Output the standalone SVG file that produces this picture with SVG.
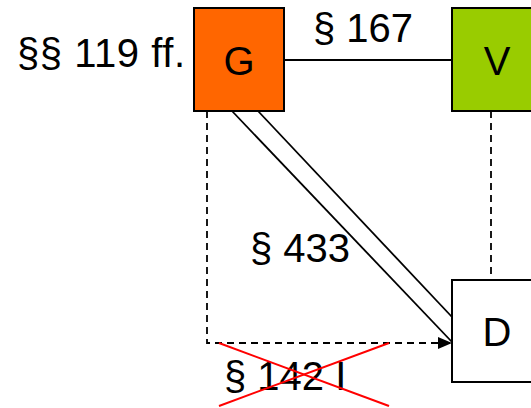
<svg xmlns="http://www.w3.org/2000/svg" width="531" height="408" viewBox="0 0 531 408">
<style>
.t{font-family:"Liberation Sans",Arial,sans-serif;font-size:40px;fill:#000}
.box{stroke:#000;stroke-width:2}
.ln{stroke:#000;stroke-width:1.8;fill:none}
.dash{stroke:#000;stroke-width:1.8;fill:none;stroke-dasharray:7,5}
.x{stroke:#ff0000;stroke-width:2;fill:none}
</style>
<defs>
<marker id="ah" viewBox="0 0 14 12" refX="14" refY="6" markerWidth="14" markerHeight="12" markerUnits="userSpaceOnUse" orient="auto">
<path d="M0,0 L14,6 L0,12 Z" fill="#000"/>
</marker>
</defs>
<rect width="531" height="408" fill="#fff"/>
<g id="connectors">
<line class="ln" x1="284" y1="60" x2="452" y2="60"/>
<line class="ln" x1="232" y1="111" x2="452" y2="342"/>
<line class="ln" x1="258" y1="111" x2="452" y2="317"/>
<polyline class="dash" points="207,111 207,343 452,343" marker-end="url(#ah)"/>
<line class="dash" x1="491" y1="111" x2="491" y2="280"/>
</g>
<g id="G">
<rect class="box" x="194" y="8" width="90" height="103" fill="#ff6600"/>
<text class="t" x="239" y="75" text-anchor="middle">G</text>
</g>
<g id="V">
<rect class="box" x="452" y="8" width="90" height="103" fill="#99cc00"/>
<text class="t" x="497" y="75" text-anchor="middle">V</text>
</g>
<g id="D">
<rect class="box" x="452" y="280" width="90" height="102" fill="#fff"/>
<text class="t" x="497" y="346" text-anchor="middle">D</text>
</g>
<g id="labels">
<text class="t" x="17" y="67" textLength="168" lengthAdjust="spacing">§§ 119 ff.</text>
<text class="t" x="313" y="42">§ 167</text>
<text class="t" x="250" y="262">§ 433</text>
<text class="t" x="224" y="390">§ 142 I</text>
</g>
<g id="cross">
<line class="x" x1="219" y1="343" x2="389" y2="406"/>
<line class="x" x1="219" y1="406" x2="389" y2="343"/>
</g>
</svg>
